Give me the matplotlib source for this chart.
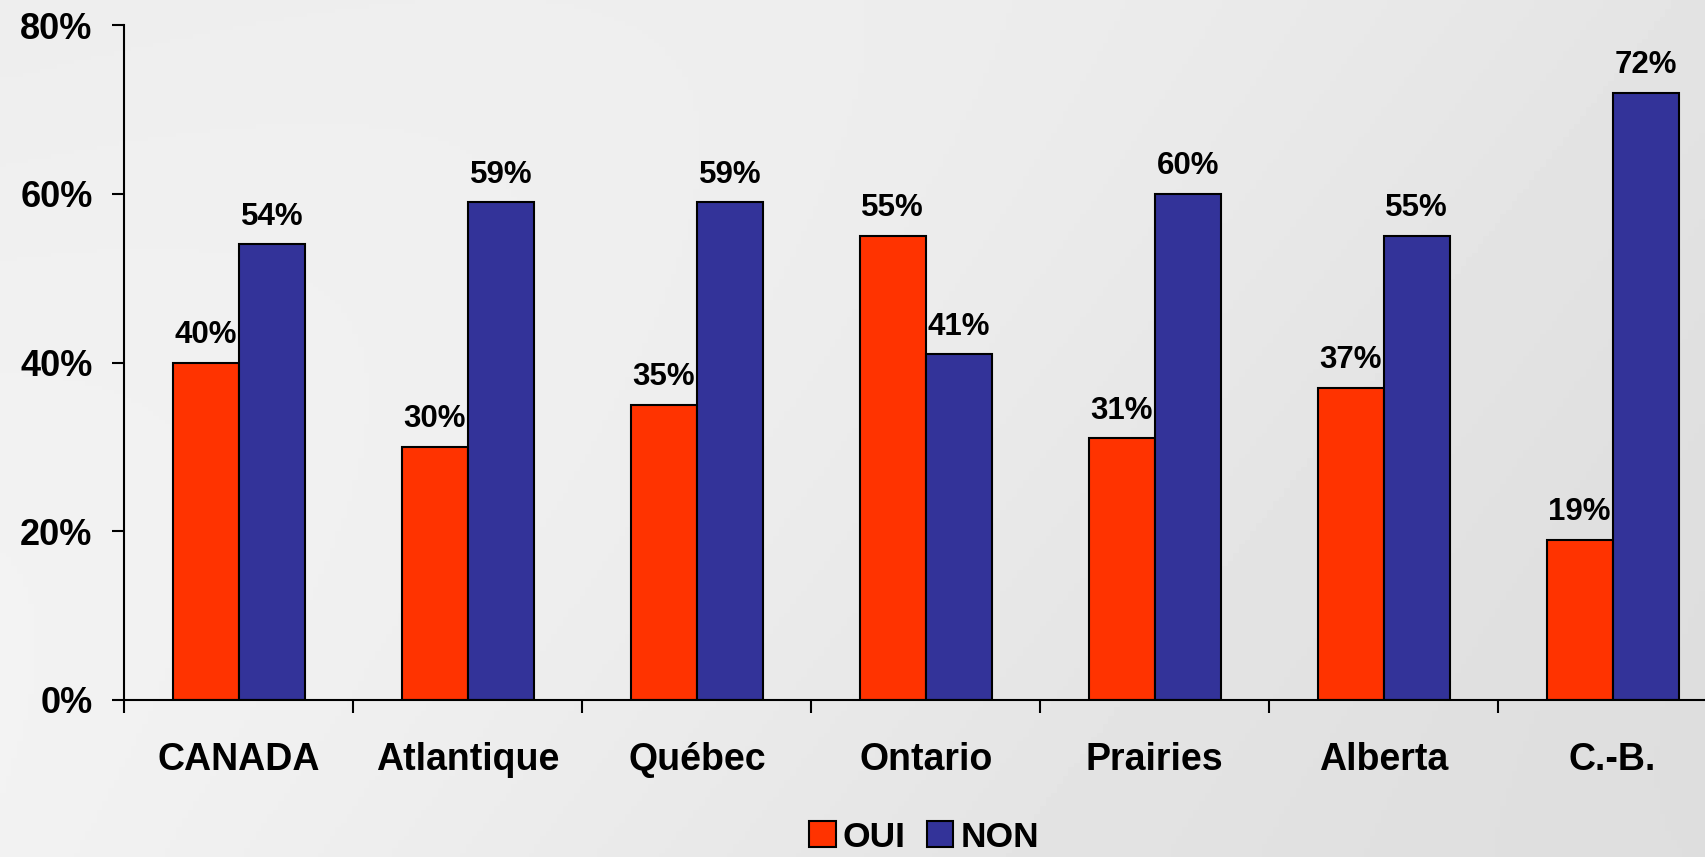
import numpy as np
import matplotlib.pyplot as plt

plt.rcParams['font.family'] = ['Liberation Sans', 'DejaVu Sans']
plt.rcParams['font.weight'] = 'bold'

regions = ["CANADA", "Atlantique", "Québec", "Ontario", "Prairies", "Alberta", "C.-B."]
oui = [40, 30, 35, 55, 31, 37, 19]
non = [54, 59, 59, 41, 60, 55, 72]

fig = plt.figure(figsize=(17.05, 8.57), dpi=100)

# soft grey backdrop
bg = fig.add_axes([0, 0, 1, 1], zorder=0)
gx, gy = np.meshgrid(np.linspace(0, 1, 300), np.linspace(0, 1, 200))
shade = 0.93 - 0.04 * gx + 0.02 * np.sin(3 * gx + 2 * gy)
bg.imshow(shade, cmap="gray", vmin=0, vmax=1, aspect="auto", extent=[0, 1, 0, 1])
bg.axis("off")

# plot area runs a little past the right edge, as in the original slide
ax = fig.add_axes([0.073, 0.1832, 0.940, 0.7876], zorder=1)
ax.patch.set_alpha(0)

x = np.arange(len(regions)) + 0.5
w = 0.288
b1 = ax.bar(x - w / 2, oui, w, color="#FF3300", edgecolor="black", linewidth=1.5, label="OUI")
b2 = ax.bar(x + w / 2, non, w, color="#333399", edgecolor="black", linewidth=1.5, label="NON")

for bars in (b1, b2):
    for r in bars:
        ax.annotate(f"{r.get_height():.0f}%", (r.get_x() + r.get_width() / 2, r.get_height()),
                    xytext=(0, 9), textcoords="offset points", ha="center", va="bottom",
                    fontsize=22.5, fontweight="bold")

ax.set_xlim(0, len(regions))
ax.set_ylim(0, 80)
ax.set_yticks([0, 20, 40, 60, 80])
ax.set_yticklabels([f"{v}%" for v in [0, 20, 40, 60, 80]])
ax.set_xticks(np.arange(len(regions) + 1))
ax.set_xticklabels([])
ax.set_xticks(x, minor=True)
ax.set_xticklabels(regions, minor=True)
ax.tick_params(axis="x", which="major", length=9, width=1.5, direction="out")
ax.tick_params(axis="x", which="minor", length=0, pad=30, labelsize=27)
ax.tick_params(axis="y", length=9, width=1.5, pad=14, labelsize=26)

for s in ["top", "right"]:
    ax.spines[s].set_visible(False)
for s in ["left", "bottom"]:
    ax.spines[s].set_linewidth(1.5)

# legend centred under the visible part of the chart
leg = fig.legend(handles=[b1, b2], loc="center", bbox_to_anchor=(0.542, 0.023), ncol=2,
                 frameon=False, fontsize=25.5, handlelength=0.75, handleheight=0.75,
                 handletextpad=0.2, columnspacing=0.6)

fig.savefig("out.png", dpi=100)
